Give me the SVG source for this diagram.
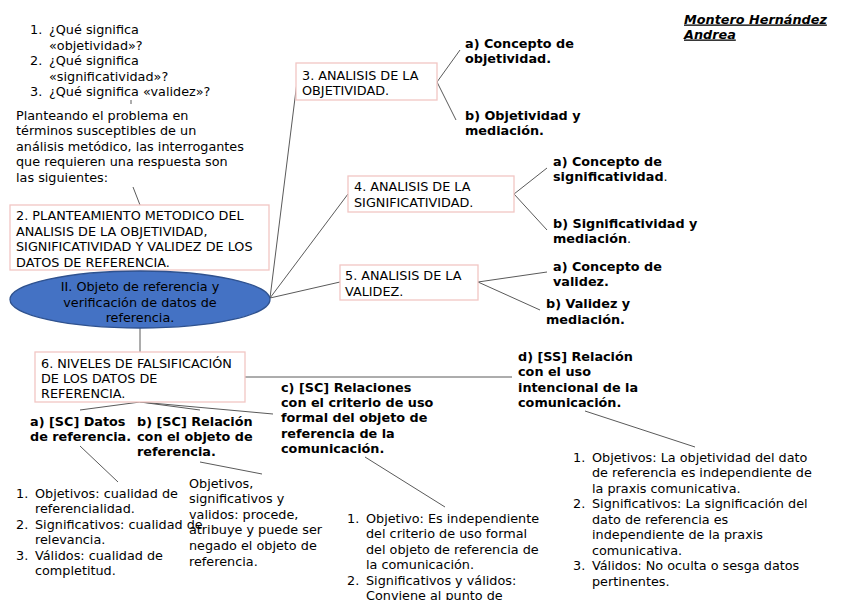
<svg xmlns="http://www.w3.org/2000/svg" width="848" height="600" viewBox="0 0 848 600">
<style>
text{font-family:"DejaVu Sans","Liberation Sans",sans-serif;font-size:12.8px;fill:#000}
.b{font-weight:bold}
.box{fill:#fff;stroke:#f2c6c4;stroke-width:1.3}
.c line{stroke:#5a5a5a;stroke-width:1}
.au{font-weight:bold;font-style:italic;text-decoration:underline}
</style>
<rect width="848" height="600" fill="#fff"/>
<g class="c" id="connectors">
<line x1="131" y1="100" x2="131" y2="104"/>
<line x1="133" y1="187" x2="140" y2="205"/>
<line x1="270" y1="298" x2="297" y2="82"/>
<line x1="270" y1="298" x2="348" y2="194"/>
<line x1="270" y1="298" x2="340" y2="282"/>
<line x1="437" y1="82" x2="460" y2="50"/>
<line x1="437" y1="82" x2="456" y2="120"/>
<line x1="514" y1="194" x2="547" y2="168"/>
<line x1="514" y1="194" x2="547" y2="230"/>
<line x1="478" y1="282" x2="547" y2="272"/>
<line x1="478" y1="282" x2="540" y2="310"/>
<line x1="140" y1="328" x2="140" y2="352"/>
<line x1="245" y1="377" x2="512" y2="377"/>
<line x1="140" y1="402" x2="80" y2="410"/>
<line x1="140" y1="402" x2="200" y2="410"/>
<line x1="140" y1="402" x2="273" y2="414"/>
<line x1="80" y1="446" x2="118" y2="482"/>
<line x1="200" y1="462" x2="262" y2="474"/>
<line x1="365" y1="457" x2="445" y2="507"/>
<line x1="585" y1="411" x2="695" y2="447"/>
</g>
<g id="author">
<text class="au" x="684" y="23.5">Montero Hernández</text>
<text class="au" x="684" y="38.5">Andrea</text>
</g>
<g id="questions">
<text x="30" y="34">1.</text><text x="49" y="34">¿Qué significa</text>
<text x="49" y="49.5">«objetividad»?</text>
<text x="30" y="65">2.</text><text x="49" y="65">¿Qué significa</text>
<text x="49" y="80.5">«significatividad»?</text>
<text x="30" y="96">3.</text><text x="49" y="96">¿Qué significa «validez»?</text>
</g>
<g id="intro">
<text x="16" y="119.5">Planteando el problema en</text>
<text x="16" y="135">términos susceptibles de un</text>
<text x="16" y="150.5">análisis metódico, las interrogantes</text>
<text x="16" y="166">que requieren una respuesta son</text>
<text x="16" y="181.5">las siguientes:</text>
</g>
<g id="n2">
<rect class="box" x="10" y="205" width="259" height="65"/>
<text x="16" y="220">2. PLANTEAMIENTO METODICO DEL</text>
<text x="16" y="235.5">ANALISIS DE LA OBJETIVIDAD,</text>
<text x="16" y="251">SIGNIFICATIVIDAD Y VALIDEZ DE LOS</text>
<text x="16" y="266.5">DATOS DE REFERENCIA.</text>
</g>
<g id="center">
<ellipse cx="140" cy="299.5" rx="130" ry="28.5" fill="#4472c4" stroke="#2f528f" stroke-width="1.3"/>
<text x="140" y="291" text-anchor="middle">II. Objeto de referencia y</text>
<text x="140" y="306.5" text-anchor="middle">verificación de datos de</text>
<text x="140" y="321.5" text-anchor="middle">referencia.</text>
</g>
<g id="n3">
<rect class="box" x="296" y="63" width="141" height="37"/>
<text x="302" y="79.5">3. ANALISIS DE LA</text>
<text x="302" y="95">OBJETIVIDAD.</text>
</g>
<g id="n3a">
<text class="b" x="465" y="47.5">a) Concepto de</text>
<text class="b" x="465" y="63">objetividad.</text>
</g>
<g id="n3b">
<text class="b" x="465" y="119.5">b) Objetividad y</text>
<text class="b" x="465" y="135">mediación.</text>
</g>
<g id="n4">
<rect class="box" x="348" y="176" width="166" height="36"/>
<text x="354" y="191">4. ANALISIS DE LA</text>
<text x="354" y="206.5">SIGNIFICATIVIDAD.</text>
</g>
<g id="n4a">
<text class="b" x="553" y="166">a) Concepto de</text>
<text x="553" y="181"><tspan class="b">significatividad</tspan>.</text>
</g>
<g id="n4b">
<text class="b" x="553" y="227.5">b) Significatividad y</text>
<text x="553" y="243"><tspan class="b">mediación</tspan>.</text>
</g>
<g id="n5">
<rect class="box" x="340" y="265" width="138" height="35"/>
<text x="345" y="280">5. ANALISIS DE LA</text>
<text x="345" y="296">VALIDEZ.</text>
</g>
<g id="n5a">
<text class="b" x="553" y="270.5">a) Concepto de</text>
<text class="b" x="553" y="286">validez.</text>
</g>
<g id="n5b">
<text class="b" x="546" y="307.5">b) Validez y</text>
<text class="b" x="546" y="323.5">mediación.</text>
</g>
<g id="n6">
<rect class="box" x="35" y="352" width="210" height="50"/>
<text x="41" y="367.5">6. NIVELES DE FALSIFICACIÓN</text>
<text x="41" y="382.5">DE LOS DATOS DE</text>
<text x="41" y="397.5">REFERENCIA.</text>
</g>
<g id="n6a">
<text class="b" x="30" y="426">a) [SC] Datos</text>
<text class="b" x="30" y="441">de referencia.</text>
</g>
<g id="n6b">
<text class="b" x="137" y="426">b) [SC] Relación</text>
<text class="b" x="137" y="441">con el objeto de</text>
<text class="b" x="137" y="456">referencia.</text>
</g>
<g id="n6c">
<text class="b" x="281" y="391.5">c) [SC] Relaciones</text>
<text class="b" x="281" y="406.5">con el criterio de uso</text>
<text class="b" x="281" y="422">formal del objeto de</text>
<text class="b" x="281" y="437.5">referencia de la</text>
<text class="b" x="281" y="453">comunicación.</text>
</g>
<g id="n6d">
<text class="b" x="518" y="360.5">d) [SS] Relación</text>
<text class="b" x="518" y="375.5">con el uso</text>
<text class="b" x="518" y="391.5">intencional de la</text>
<text class="b" x="518" y="406.5">comunicación.</text>
</g>
<g id="list-a">
<text x="16" y="497.5">1.</text><text x="35" y="497.5">Objetivos: cualidad de</text>
<text x="35" y="513">referencialidad.</text>
<text x="16" y="528.5">2.</text><text x="35" y="528.5">Significativos: cualidad de</text>
<text x="35" y="544">relevancia.</text>
<text x="16" y="559.5">3.</text><text x="35" y="559.5">Válidos: cualidad de</text>
<text x="35" y="575">completitud.</text>
</g>
<g id="list-b">
<text x="189" y="487.5">Objetivos,</text>
<text x="189" y="503.1">significativos y</text>
<text x="189" y="518.7">validos: procede,</text>
<text x="189" y="534.3">atribuye y puede ser</text>
<text x="189" y="549.9">negado el objeto de</text>
<text x="189" y="565.5">referencia.</text>
</g>
<g id="list-c">
<text x="347" y="522.5">1.</text><text x="366" y="522.5">Objetivo: Es independiente</text>
<text x="366" y="538">del criterio de uso formal</text>
<text x="366" y="553.5">del objeto de referencia de</text>
<text x="366" y="569">la comunicación.</text>
<text x="347" y="584.5">2.</text><text x="366" y="584.5">Significativos y válidos:</text>
<text x="366" y="599.5">Conviene al punto de</text>
</g>
<g id="list-d">
<text x="573" y="461.5">1.</text><text x="592" y="461.5">Objetivos: La objetividad del dato</text>
<text x="592" y="477">de referencia es independiente de</text>
<text x="592" y="492.5">la praxis comunicativa.</text>
<text x="573" y="508">2.</text><text x="592" y="508">Significativos: La significación del</text>
<text x="592" y="523.5">dato de referencia es</text>
<text x="592" y="539">independiente de la praxis</text>
<text x="592" y="554.5">comunicativa.</text>
<text x="573" y="570">3.</text><text x="592" y="570">Válidos: No oculta o sesga datos</text>
<text x="592" y="585.5">pertinentes.</text>
</g>
</svg>
